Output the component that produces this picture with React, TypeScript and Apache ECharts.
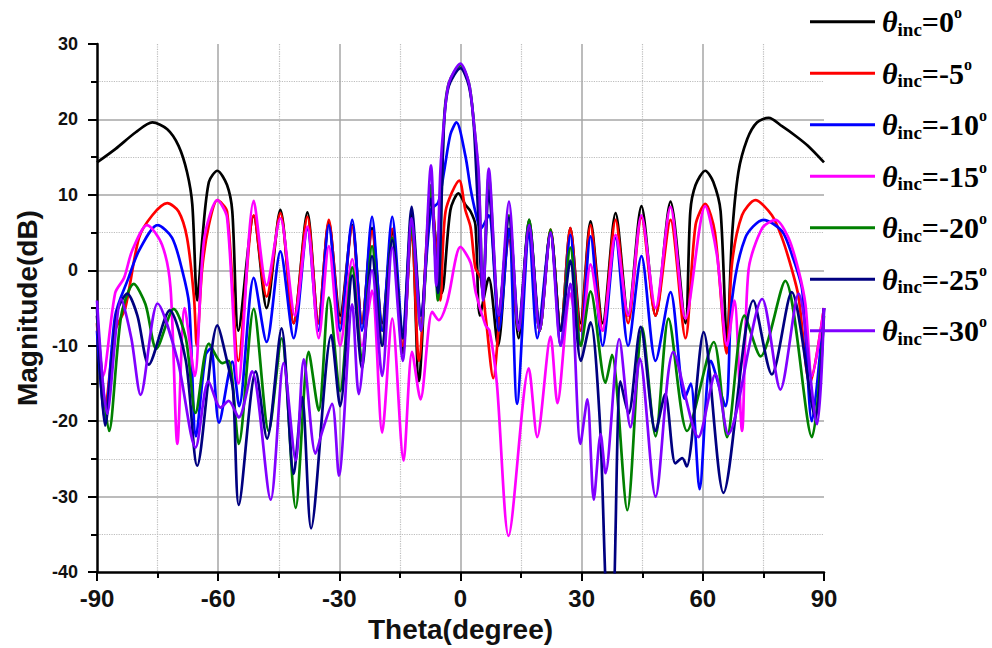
import React, { useEffect, useRef } from "react";
import * as echarts from "echarts";

const xTicks = { min: -90, max: 90, interval: 30 };
const yTicks = { min: -40, max: 30, interval: 10 };

const incAngles = ["0", "-5", "-10", "-15", "-20", "-25", "-30"];
const colors = ["#000000", "#ff0000", "#0000ff", "#ff00ff", "#008000", "#000080", "#8000ff"];

const inc0 = [
  [-90, 14.3], [-85.4, 16.1], [-80.4, 18.3], [-76.3, 19.6], [-72.6, 18.7], [-69.8, 16.5], [-67.7, 13], [-66.4, 8.7], [-65.2, -4],
  [-63.9, 4.3], [-62.3, 11.7], [-60.2, 13.2], [-57.8, 11.3], [-56.5, 7.8], [-55, -8], [-51.2, 7.2], [-48, -5], [-44.6, 8],
  [-41.3, -7], [-37.9, 7.7], [-35.2, -7], [-32.6, 6.4], [-29.8, -6], [-26.8, 6], [-24.4, -7], [-21.9, 5.6], [-19.4, -7],
  [-16.9, 5.3], [-14.3, -11], [-12.1, 7.4], [-10.3, -14.7], [-7.3, 9.3], [-4.6, -3], [-2.5, 8], [-0.5, 10.2], [1.2, 8.7],
  [2.5, 7.8], [3.7, 6], [4.8, -6], [7, -1], [9.3, -10], [12, 5.5], [14.4, -9], [17, 6.7], [19.6, -8], [22.3, 5.2], [24.8, -8],
  [27.2, 5.6], [29.7, -7], [32.2, 6.5], [35.2, -7], [38.4, 7.6], [41.5, -6], [44.8, 8.5], [48.3, -6], [52, 9.1], [55.7, -7],
  [56.9, 7.8], [58.2, 11.3], [60.6, 13.2], [62.6, 11.7], [64.4, 7.8], [66, -10], [67.2, 4.3], [68.8, 13], [71, 17.4],
  [73.4, 19.6], [76.3, 20.2], [79.6, 19.1], [83, 17.8], [86, 16.5], [90, 14.3],
];

const inc5 = [
  [-90, -7], [-88, -18], [-85.5, -8], [-83, -5], [-79.6, 4.3], [-76.3, 7.3], [-72.6, 8.9], [-69.8, 7.8], [-67.7, 4.3], [-66, -3.5],
  [-65.3, -10], [-64, 0], [-62.3, 6], [-60.2, 9.3], [-57.8, 7.8], [-55, -12], [-51.2, 7.3], [-48, -3.5], [-44.6, 7.6], [-41.3, -7],
  [-37.9, 7.1], [-35.2, -7], [-32.6, 6.7], [-29.8, -7], [-26.8, 5.8], [-24.4, -7], [-21.9, 5.2], [-19.4, -8], [-16.9, 5.5],
  [-14.3, -10], [-12.1, 5.5], [-10.3, -12], [-7.3, 10.5], [-5, -4], [-3.7, 7.8], [-0.3, 11.9], [1.2, 8], [2.5, 5.7], [3.7, 0.3],
  [5, -1], [6.3, -6.5], [8.1, -14.3], [10, -4], [12, 4], [14.4, -8], [17, 5.8], [19.6, -8], [22.3, 5.4], [24.8, -8], [27.2, 5.6],
  [29.7, -8], [32.2, 6], [35.2, -8], [38.4, 6.7], [41.5, -7], [44.8, 7], [48.3, -6], [52, 6.7], [55.7, -9], [58.2, 6], [60.6, 8.8],
  [63, 5], [65.9, -11], [67.2, 0.8], [69.7, 7.3], [73, 9.3], [77.1, 7.3], [79.6, 4.3], [82.1, 0], [83.7, -3.5], [86.5, -15], [90, -5],
];

const inc10 = [
  [-90, -8], [-88, -20], [-85.5, -6], [-82.2, -1], [-79.6, 2.6], [-75, 6], [-71.4, 4.3], [-68.9, 0], [-67.2, -4.5], [-65.5, -22],
  [-63.1, -11.2], [-61.8, -10.3], [-59.8, -20.2], [-56.5, -12.1], [-54.8, -18], [-51.2, -1], [-48, -9.5], [-44.6, 2.5], [-41.3, -9],
  [-37.9, 5.5], [-35.2, -8], [-32.6, 6], [-29.8, -8], [-26.8, 6.7], [-24.4, -8], [-21.9, 7.1], [-19.4, -8], [-16.9, 7.1],
  [-14.3, -8], [-12.1, 6.5], [-9.8, -6], [-7.3, 8], [-5.5, 9], [-4.1, 13], [-2.5, 18], [-1, 19.6], [1.2, 15.2], [2.5, 10.8],
  [3.8, 7.5], [5, 5.5], [7, 7.3], [9.5, -8], [12, 5.5], [14, -17.7], [17, 5], [19, -9], [22.3, 5], [24.8, -10], [27.2, 4.7], [29.7, -10],
  [32.2, 4.5], [35.2, -10], [38.4, 4.3], [41.5, -10], [44.8, 1.9], [48.3, -12], [52, -2.9], [55.5, -17], [57, -15], [59.2, -29],
  [62, -12], [65.6, -18], [67.2, -4], [70.5, 4.3], [75, 6.7], [79.6, 5.2], [82.1, 2], [84.6, -2.6], [87, -20], [90, -5],
];

const inc15 = [
  [-90, -6], [-88.5, -14], [-85.5, -3], [-83.3, -1], [-81.3, 2.6], [-77.6, 6], [-73.9, 3.4], [-71.8, -2.3], [-70.1, -23],
  [-68.3, -5], [-65.8, -14], [-63.5, 4], [-60.2, 9.3], [-57.8, 7], [-55, -15], [-51.2, 9.2], [-48, -2], [-44.6, 6.9], [-41, -6],
  [-37.9, 5.8], [-35.1, -9], [-32.6, 3.2], [-29.8, -10], [-26.8, 1.5], [-24.4, -10], [-21.9, -2.7], [-19.4, -21.5], [-16.9, -6.4],
  [-14.1, -25.2], [-12, -10.8], [-9.9, -17.1], [-7, -5.5], [-5.4, -6.6], [-3.3, -4.2], [0, 3.1], [2.5, 1], [3.8, -3], [6.2, -7.3],
  [7.2, -8], [9, -15], [11.9, -35.2], [16.9, -13], [19, -22.1], [22.3, -8.8], [24, -17.6], [27.2, -3.1], [29.7, -10], [32.2, 0.8],
  [35.1, -8], [38.4, 4.7], [41.5, -6], [44.8, 7.3], [48.3, -5], [52, 8.4], [55.7, -6.4], [60.6, 8.5], [63.5, 2], [66, -10],
  [67.8, -4], [69.7, -21.3], [71.3, 0], [74.7, 5.6], [78, 6.7], [81.2, 4.3], [83.7, 0], [85.4, -4.5], [87, -14], [90, -5],
];

const inc20 = [
  [-90, -6], [-87, -21.3], [-84, -6], [-80.9, -1.8], [-78, -4.5], [-75.3, -10.4], [-71, -5.1], [-68, -9], [-65.6, -18.9],
  [-62.3, -9.7], [-59, -12.3], [-57.4, -12], [-54.9, -23], [-51.2, -5.1], [-47.5, -21.3], [-44.3, -9], [-40.8, -31.5],
  [-37.6, -10.8], [-35.1, -18.6], [-32.6, -3.6], [-29.8, -16], [-26.8, 0.4], [-24.4, -12], [-21.9, 3.2], [-19.4, -10],
  [-16.9, 4.3], [-14.3, -9], [-12.1, 5.6], [-9.8, -8], [-7.3, 11.3], [-5.6, -4], [-4.1, 19.6], [-2.9, 24.8], [0, 27.2],
  [2.1, 24.8], [3.3, 19.6], [4.5, 12], [5.6, -3], [7, 12.5], [9.5, -6], [12, 7.3], [14.4, -8], [17, 6.7], [19.6, -8], [22.3, 5.4],
  [24.8, -8], [27.2, 3], [29.8, -10], [32.2, -2.8], [35.9, -14.9], [37.5, -11.2], [41.3, -31.8], [45, -7.6], [48.3, -22],
  [51.5, -6.4], [56.1, -21.3], [62.7, -9.5], [66, -22.1], [70.3, -6], [74.3, -11.4], [80.4, -1.4], [87, -22.1], [90, -6],
];

const inc25 = [
  [-90, -5], [-88, -20.6], [-85, -5.5], [-82.5, -3.1], [-80, -6], [-77.2, -12.5], [-72, -5.3], [-68, -12], [-65.2, -25.9],
  [-60.2, -7.3], [-57.6, -12.5], [-56.3, -16], [-54.9, -31.1], [-50.7, -13.4], [-47.9, -22.3], [-44.3, -7.7], [-41.3, -27],
  [-39.2, -16.8], [-37, -34.2], [-32, -8.6], [-29.8, -18], [-26.8, -0.7], [-24.4, -13], [-21.9, 1.9], [-19.4, -10], [-16.9, 4],
  [-14.3, -9], [-12.1, 8.4], [-9.8, -6], [-7.3, 9.5], [-5.6, -3], [-4.1, 19.2], [-2.9, 24.4], [0, 26.8], [2.1, 24.4], [3.3, 19.2],
  [5.6, -3], [7, 10.6], [9.5, -6], [12, 7], [14.4, -7], [17, 6], [19.6, -7], [22.3, 5], [24.8, -8], [27.2, 1.3], [29.8, -12],
  [32.2, -6.9], [34.5, -20], [36.6, -46], [37.6, -46], [39.6, -14.7], [41.6, -19], [44.6, -7.5], [48.3, -21.3], [50.7, -16.4],
  [53.2, -25.6], [54.9, -24.9], [56, -26], [60.2, -8.2], [65.1, -29.5], [72.5, -4], [77.1, -13.8], [82, -2.9], [87.9, -19.5],
  [90, -5],
];

const inc30 = [
  [-90, -4], [-87.5, -19], [-84, -3.8], [-81.5, -9], [-79.2, -16.5], [-75, -4.4], [-70, -12], [-65.6, -23.5], [-62.4, -14.7],
  [-59.4, -18.2], [-57.4, -17.3], [-54.9, -19.5], [-51.6, -13.4], [-47, -30.4], [-43.8, -12.3], [-40.8, -25.2], [-38.8, -11.8],
  [-35.9, -24.3], [-34.2, -21.3], [-31.8, -17.7], [-30.1, -27.2], [-26.8, -4.5], [-25.2, -16.4], [-21.9, 0], [-19.4, -14],
  [-16.9, 3], [-14.3, -12], [-12.1, 6.9], [-9.8, -8], [-7.3, 13.9], [-6, -2], [-5, 13], [-4.1, 19.6], [-2.9, 24.8], [0, 27.4],
  [2.1, 24.8], [3.3, 19.6], [4.5, 13], [5.6, -4], [7, 13.5], [9.5, -6], [12, 9.1], [14.4, -8], [17, 6], [19.6, -8], [22.3, 5],
  [24.8, -10], [27.2, -1.8], [29.7, -23], [31.4, -17.1], [33, -30.4], [34.7, -21.7], [35.9, -26.9], [39.3, -9.1], [42.1, -20.8],
  [44.4, -11.7], [48.3, -30], [52.7, -10.8], [58.9, -22.1], [63.1, -13.8], [66.3, -21.7], [74.7, -3.8], [79.2, -15.8],
  [83.7, -3.1], [88.3, -20.4], [90, -5],
];

const seriesData = [inc0, inc5, inc10, inc15, inc20, inc25, inc30];

const FONT_SANS = "'Liberation Sans', Arial, sans-serif";
const FONT_SERIF = "'Liberation Serif', 'Times New Roman', serif";

export default function App() {
  const ref = useRef<HTMLDivElement>(null);
  useEffect(() => {
    if (!ref.current) return;
    const chart = echarts.init(ref.current, null, { renderer: "svg" });
    const legendTop = 21.7;
    const legendStep = 51.5;
    const graphic: any[] = [];
    incAngles.forEach((a, i) => {
      const y = legendTop + i * legendStep;
      graphic.push({
        type: "line",
        shape: { x1: 810, y1: y, x2: 875, y2: y },
        style: { stroke: colors[i], lineWidth: 3 },
        z: 100,
      });
      graphic.push({
        type: "text",
        x: 882,
        y: y,
        z: 100,
        style: {
          text: `{t|θ}{s|inc}{n|=${a}}{p|o}`,
          verticalAlign: "middle",
          fill: "#000",
          rich: {
            t: { fontFamily: FONT_SERIF, fontStyle: "italic", fontWeight: "bold", fontSize: 30, lineHeight: 34, fill: "#000" },
            s: { fontFamily: FONT_SERIF, fontWeight: "bold", fontSize: 19, lineHeight: 20, verticalAlign: "bottom", fill: "#000" },
            n: { fontFamily: FONT_SERIF, fontWeight: "bold", fontSize: 30, lineHeight: 34, fill: "#000" },
            p: { fontFamily: FONT_SERIF, fontWeight: "bold", fontSize: 16, lineHeight: 18, verticalAlign: "top", fill: "#000" },
          },
        },
      });
    });

    const option: any = {
      animation: false,
      backgroundColor: "#ffffff",
      grid: { left: 97, top: 44, width: 727, height: 534 },
      xAxis: {
        type: "value",
        min: xTicks.min,
        max: xTicks.max,
        interval: xTicks.interval,
        name: "Theta(degree)",
        nameLocation: "middle",
        nameGap: 38,
        nameTextStyle: { fontFamily: FONT_SANS, fontWeight: "bold", fontSize: 28, color: "#111" },
        axisLine: { show: true, onZero: false, lineStyle: { color: "#000", width: 2.5 } },
        axisTick: { show: true, length: 9, lineStyle: { color: "#000", width: 2 } },
        minorTick: { show: true, splitNumber: 2, length: 6, lineStyle: { color: "#000", width: 2 } },
        axisLabel: { fontFamily: FONT_SANS, fontWeight: "bold", fontSize: 24, color: "#111", margin: 14 },
        splitLine: { show: true, showMinLine: false, showMaxLine: false, lineStyle: { color: "#a6a6a6", width: 1.5 } },
        minorSplitLine: { show: true, lineStyle: { color: "#bdbdbd", width: 1.2, type: "dotted" } },
      },
      yAxis: {
        type: "value",
        min: yTicks.min,
        max: yTicks.max,
        interval: yTicks.interval,
        name: "Magnitude(dB)",
        nameLocation: "middle",
        nameGap: 55,
        nameTextStyle: { fontFamily: FONT_SANS, fontWeight: "bold", fontSize: 28, color: "#111" },
        axisLine: { show: true, onZero: false, lineStyle: { color: "#000", width: 2.5 } },
        axisTick: { show: true, length: 9, lineStyle: { color: "#000", width: 2 } },
        minorTick: { show: true, splitNumber: 2, length: 6, lineStyle: { color: "#000", width: 2 } },
        axisLabel: { fontFamily: FONT_SANS, fontWeight: "bold", fontSize: 18, color: "#111", margin: 19 },
        splitLine: { show: true, showMinLine: false, showMaxLine: false, lineStyle: { color: "#a6a6a6", width: 1.5 } },
        minorSplitLine: { show: true, lineStyle: { color: "#bdbdbd", width: 1.2, type: "dotted" } },
      },
      series: seriesData.map((d, i) => ({
        type: "line",
        name: `θinc=${incAngles[i]}°`,
        data: d,
        showSymbol: false,
        smooth: 0.28,
        clip: true,
        lineStyle: { color: colors[i], width: 2.7 },
        itemStyle: { color: colors[i] },
        z: 2 + i,
      })),
      graphic,
    };
    chart.setOption(option);
    return () => chart.dispose();
  }, []);
  return <div ref={ref} style={{ position: "absolute", left: 0, top: 0, width: 992, height: 648, background: "#fff" }} />;
}
